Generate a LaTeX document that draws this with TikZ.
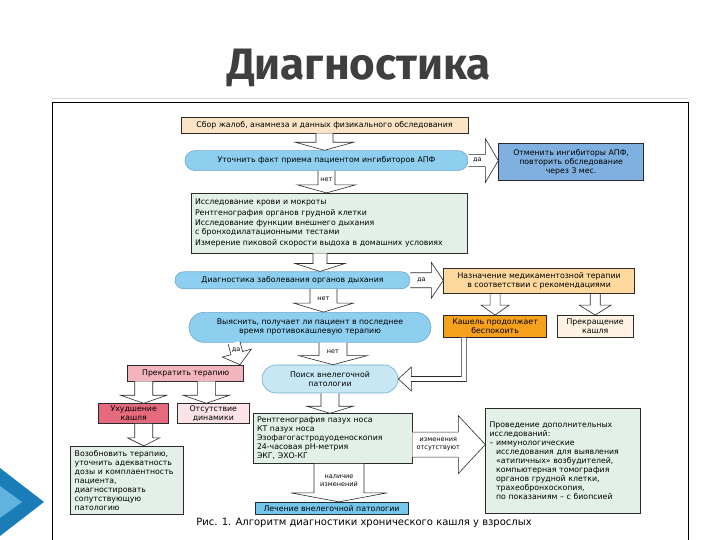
\documentclass[tikz,border=0pt]{standalone}
\usepackage{fontspec}
\setmainfont{DejaVu Sans}
\newfontfamily\titlefont{Fira Sans}
\usepackage{xcolor}
\definecolor{cLine}{HTML}{2B2B2B}
\definecolor{cTitle}{HTML}{3F3F3F}
\definecolor{cShadow}{HTML}{D9D9D9}
\definecolor{cPeach}{HTML}{FBE3C6}
\definecolor{cSky}{HTML}{8ECFF0}
\definecolor{cSkyLight}{HTML}{C8E7F5}
\definecolor{cSkyEdge}{HTML}{6FA9CC}
\definecolor{cBlue}{HTML}{7FB0E0}
\definecolor{cCyan}{HTML}{74C6EC}
\definecolor{cSage}{HTML}{E3F0E7}
\definecolor{cApricot}{HTML}{FCD79E}
\definecolor{cOrange}{HTML}{F6A11D}
\definecolor{cCream}{HTML}{FEF2E2}
\definecolor{cRose}{HTML}{F3B4BE}
\definecolor{cRed}{HTML}{E66A7E}
\definecolor{cBlush}{HTML}{FCE3E7}
\definecolor{cDeco}{HTML}{1B7DB8}
\definecolor{cDecoLight}{HTML}{5FB3DE}
\usepackage{tikz}
\usetikzlibrary{positioning,calc,shapes.misc}
\tikzset{
  node-box/.style={draw=cLine,line width=0.6pt,align=center,inner sep=2pt,
    font=\fontsize{7.8}{9}\selectfont},
  node-pill/.style={node-box,rounded rectangle,draw=cSkyEdge,fill=cSky},
  node-text/.style={node-box,align=left,inner xsep=4pt,inner ysep=3pt},
  node-peach/.style={fill=cPeach},
  node-blue/.style={fill=cBlue},
  node-cyan/.style={fill=cCyan},
  node-sage/.style={fill=cSage},
  node-apricot/.style={fill=cApricot},
  node-orange/.style={fill=cOrange},
  node-cream/.style={fill=cCream},
  node-rose/.style={fill=cRose},
  node-red/.style={fill=cRed},
  node-blush/.style={fill=cBlush},
  node-yn/.style={inner sep=0pt,font=\fontsize{6.5}{7.5}\selectfont,align=center},
  % полая «толстая» стрелка от точки к точке
  fat-sw/.store in=\fatsw, fat-hw/.store in=\fathw, fat-hl/.store in=\fathl,
  fat-sw=8.5pt, fat-hw=29pt, fat-hl=8pt,
  arrow-fat/.style={draw=cLine,fill=white,line width=0.6pt,line join=miter,
    to path={let \p1=(\tikztostart), \p2=(\tikztotarget),
      \n1={atan2(\y2-\y1,\x2-\x1)}, \n2={veclen(\x2-\x1,\y2-\y1)} in
      ($(\p1)+(\n1+90:\fatsw)$)
      -- ($(\p1)+(\n1:\n2-\fathl)+(\n1+90:\fatsw)$)
      -- ($(\p1)+(\n1:\n2-\fathl)+(\n1+90:\fathw)$)
      -- (\p2)
      -- ($(\p1)+(\n1:\n2-\fathl)+(\n1-90:\fathw)$)
      -- ($(\p1)+(\n1:\n2-\fathl)+(\n1-90:\fatsw)$)
      -- ($(\p1)+(\n1-90:\fatsw)$)}},
}

\begin{document}
\begin{tikzpicture}[x=1pt,y=1pt,node distance=20pt]
  \useasboundingbox (0,0) rectangle (720,540);
  % рамка слайда
  \fill[cDeco] (0,72) -- (44,38) -- (0,4) -- cycle;
  \fill[cDecoLight] (0,54) -- (22,38) -- (0,22) -- cycle;
  \draw[cShadow,line width=1pt] (52,441) -- (688,441);
  \draw[line width=0.8pt] (52,-5) rectangle (688,438);
  \node[font=\titlefont\bfseries\fontsize{44}{50}\selectfont,text=cTitle,anchor=base] (title) at (359,460) {Диагностика};

  \node[node-box,node-peach,minimum width=287pt,minimum height=16pt] (collect) at (324.5,415)
    {Сбор жалоб, анамнеза и данных физикального обследования};
  \node[node-pill,minimum width=287pt,minimum height=20pt,below=17pt of collect,xshift=2pt] (ace)
    {Уточнить факт приема пациентом ингибиторов АПФ};
  \node[node-box,node-blue,minimum width=145pt,minimum height=37pt,right=30pt of ace,yshift=-1.5pt] (cancel)
    {Отменить ингибиторы АПФ,\\повторить обследование\\через 3 мес.};
  \node[node-text,node-sage,text width=268pt,minimum height=60pt,below=22pt of ace,xshift=2.5pt] (tests)
    {Исследование крови и мокроты\\[1.5pt]
     Рентгенография органов грудной клетки\\[1.5pt]
     Исследование функции внешнего дыхания\\
     с бронходилатационными тестами\\[1.5pt]
     Измерение пиковой скорости выдоха в домашних условиях};
  \node[node-pill,minimum width=239pt,minimum height=17pt,below=18pt of tests,xshift=-36.5pt] (resp)
    {Диагностика заболевания органов дыхания};
  \node[node-box,node-apricot,minimum width=191pt,minimum height=25pt,right=33pt of resp,yshift=-1pt] (therapy)
    {Назначение медикаментозной терапии\\в соответствии с рекомендациями};
  \node[node-pill,minimum width=246pt,minimum height=30pt,below=23pt of resp,xshift=17.5pt] (antitus)
    {Выяснить, получает ли пациент в последнее\\время противокашлевую терапию};
  \node[node-box,node-orange,minimum width=103pt,minimum height=22pt,
    below=21pt of therapy.south west,anchor=north west] (cough) {Кашель продолжает\\беспокоить};
  \node[node-box,node-cream,minimum width=76pt,minimum height=22pt,right=10pt of cough] (stopcough)
    {Прекращение\\кашля};
  \node[node-pill,fill=cSkyLight,minimum width=140pt,minimum height=28pt,below=22pt of antitus,xshift=20pt] (find)
    {Поиск внелегочной\\патологии};
  \node[node-box,node-rose,minimum width=116pt,minimum height=16pt,
    left=32pt of find.north west,anchor=north east] (stop) {Прекратить терапию};
  \node[node-box,node-red,minimum width=70pt,minimum height=20pt,
    below=22pt of stop.south west,anchor=north west,xshift=-29pt] (worse) {Ухудшение\\кашля};
  \node[node-box,node-blush,minimum width=72pt,minimum height=20pt,right=8pt of worse] (nodyn)
    {Отсутствие\\динамики};
  \node[node-text,node-sage,text width=105pt,minimum height=68pt,
    below=22pt of worse.south west,anchor=north west,xshift=-28pt] (resume)
    {Возобновить терапию,\\уточнить адекватность\\дозы и комплаентность\\пациента,\\диагностировать\\сопутствующую\\патологию};
  \node[node-text,node-sage,text width=151pt,minimum height=50pt,below=20pt of find,xshift=2.5pt] (exams)
    {Рентгенография пазух носа\\КТ пазух носа\\Эзофагогастродуоденоскопия\\24-часовая pH-метрия\\ЭКГ, ЭХО-КГ};
  \node[node-box,node-cyan,minimum width=153pt,minimum height=12pt,inner ysep=1pt,below=38pt of exams,xshift=-1pt] (treat)
    {Лечение внелегочной патологии};
  \node[node-text,node-sage,text width=147pt,minimum height=105pt,
    right=73pt of exams.north east,anchor=north west,yshift=5pt] (extra)
    {Проведение дополнительных\\исследований:\\
     – иммунологические\\
     \hphantom{– }исследования для выявления\\
     \hphantom{– }«атипичных» возбудителей,\\
     \hphantom{– }компьютерная томография\\
     \hphantom{– }органов грудной клетки,\\
     \hphantom{– }трахеобронхоскопия,\\
     \hphantom{– }по показаниям – с биопсией};
  \node[font=\fontsize{10}{12}\selectfont] (caption) at (364,17)
    {Рис. 1. Алгоритм диагностики хронического кашля у взрослых};

  \draw[arrow-fat] (collect.south) to (collect.south |- ace.north);
  \draw[arrow-fat] (ace.south) to (ace.south |- tests.north);
  \node[node-yn] (no1) at ($(ace.south)!.4!(ace.south |- tests.north)$) {нет};
  \draw[arrow-fat,fat-sw=6pt,fat-hw=22pt,fat-hl=13pt] (ace.east) to (ace.east -| cancel.west);
  \node[node-yn] (yes1) at ([xshift=9pt]ace.east) {да};
  \draw[arrow-fat,fat-sw=7pt,fat-hw=25pt] ([xshift=-9pt]tests.south) to ([xshift=-9pt]tests.south |- resp.north);
  \draw[arrow-fat,fat-sw=7.5pt,fat-hw=18pt,fat-hl=12pt] (resp.east) to (resp.east -| therapy.west);
  \node[node-yn] (yes2) at ([xshift=11pt]resp.east) {да};
  \draw[arrow-fat,fat-sw=13.5pt,fat-hw=30pt,fat-hl=9pt] ([xshift=31pt]resp.south) to ([xshift=31pt]resp.south |- antitus.north);
  \node[node-yn] (no2) at ($([xshift=31pt]resp.south)!.4!([xshift=31pt]resp.south |- antitus.north)$) {нет};
  \draw[arrow-fat,fat-sw=5pt,fat-hw=14pt,fat-hl=10pt] (cough.north |- therapy.south) to (cough.north);
  \draw[arrow-fat,fat-sw=5pt,fat-hw=16pt,fat-hl=10pt] (stopcough.north |- therapy.south) to (stopcough.north);
  \draw[arrow-fat,fat-sw=14pt,fat-hw=34pt,fat-hl=9pt] ([xshift=23pt]antitus.south) to ([xshift=23pt]antitus.south |- find.north);
  \node[node-yn] (no3) at ($([xshift=23pt]antitus.south)!.4!([xshift=23pt]antitus.south |- find.north)$) {нет};
  \draw[arrow-fat,fat-sw=6pt,fat-hw=15pt,fat-hl=12pt] ([xshift=-76pt]antitus.south) to ([xshift=-4pt]stop.north east);
  \node[node-yn] (yes3) at ($([xshift=-76pt]antitus.south)!.35!([xshift=-4pt]stop.north east)$) {да};
  \draw[arrow-fat,fat-sw=2.5pt] ([xshift=18pt]cough.south west) |- ([xshift=13pt,yshift=2.5pt]find.east)
    -- ++(0,9.5) -- (find.east) -- ++(13,-12) -- ++(0,9.5) -| ([xshift=23pt]cough.south west);
  \draw[arrow-fat,fat-sw=9pt,fat-hw=23pt] ([xshift=10pt]worse.north |- stop.south) to ([xshift=10pt]worse.north);
  \draw[arrow-fat,fat-sw=9pt,fat-hw=23pt] ([xshift=-7pt]nodyn.north |- stop.south) to ([xshift=-7pt]nodyn.north);
  \draw[arrow-fat,fat-sw=9pt,fat-hw=16pt] ([xshift=10pt]worse.south) to ([xshift=10pt]worse.south |- resume.north);
  \draw[arrow-fat,fat-sw=9pt,fat-hw=23pt,fat-hl=7pt] (find.south) to (find.south |- exams.north);
  \draw[arrow-fat,fat-sw=25pt,fat-hw=48pt,fat-hl=9pt] ([xshift=6.5pt]exams.south) to ([xshift=6.5pt]exams.south |- treat.north);
  \node[node-yn] (yes4) at ([xshift=6.5pt,yshift=-17pt]exams.south) {наличие\\изменений};
  \draw[arrow-fat,fat-sw=12.5pt,fat-hw=29pt,fat-hl=27pt] ([yshift=-6pt]exams.east) to ([yshift=-6pt]exams.east -| extra.west);
  \node[node-yn] (no4) at ([xshift=26pt,yshift=-6pt]exams.east) {изменения\\отсутствуют};
\end{tikzpicture}
\end{document}
